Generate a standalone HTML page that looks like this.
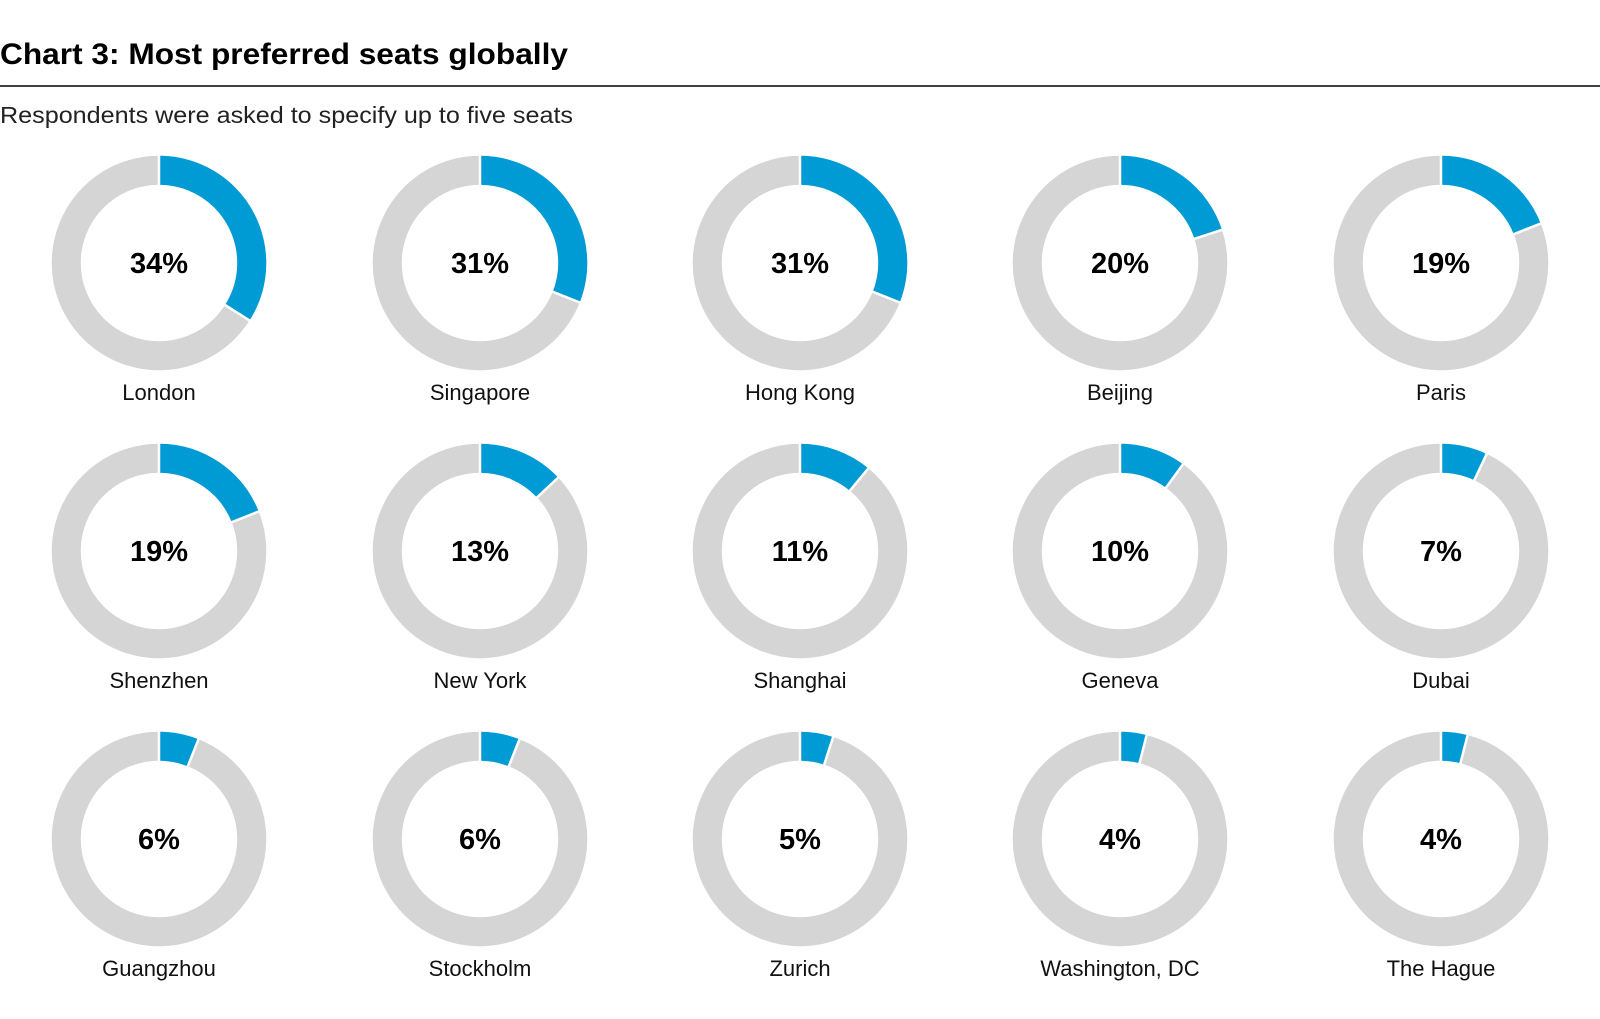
<!DOCTYPE html>
<html><head><meta charset="utf-8"><style>
html,body{margin:0;padding:0;background:#fff;}
svg{display:block;}
text{font-family:"Liberation Sans",sans-serif;}
</style></head><body>
<svg width="1600" height="1019" viewBox="0 0 1600 1019" xmlns="http://www.w3.org/2000/svg">
<text x="0" y="64" font-size="30" font-weight="bold" fill="#000" textLength="568" lengthAdjust="spacingAndGlyphs">Chart 3: Most preferred seats globally</text>
<line x1="0" y1="86" x2="1600" y2="86" stroke="#000" stroke-width="1.5"/>
<text x="0" y="123" font-size="23" fill="#222" textLength="573" lengthAdjust="spacingAndGlyphs">Respondents were asked to specify up to five seats</text>
<g id="g"></g>
</svg>
<script>
var d=[["London",34],["Singapore",31],["Hong Kong",31],["Beijing",20],["Paris",19],["Shenzhen",19],["New York",13],["Shanghai",11],["Geneva",10],["Dubai",7],["Guangzhou",6],["Stockholm",6],["Zurich",5],["Washington, DC",4],["The Hague",4]];
var xs=[159,480,800,1120,1441],ys=[263,551,839];
var r=92.75,C=2*Math.PI*r,s="";
d.forEach(function(e,i){
var cx=xs[i%5],cy=ys[Math.floor(i/5)],p=e[1]/100;
s+='<circle cx="'+cx+'" cy="'+cy+'" r="'+r+'" fill="none" stroke="#d5d5d5" stroke-width="29"/>';
s+='<circle cx="'+cx+'" cy="'+cy+'" r="'+r+'" fill="none" stroke="#009bd4" stroke-width="29" stroke-dasharray="'+(p*C)+' '+C+'" transform="rotate(-90 '+cx+' '+cy+')"/>';
[0,p].forEach(function(f){var a=2*Math.PI*f;var sx=Math.sin(a),sy=-Math.cos(a);
s+='<line x1="'+(cx+77*sx)+'" y1="'+(cy+77*sy)+'" x2="'+(cx+109*sx)+'" y2="'+(cy+109*sy)+'" stroke="#fff" stroke-width="2.5"/>';});
s+='<text x="'+cx+'" y="'+(cy+10)+'" font-size="29" font-weight="bold" text-anchor="middle" fill="#000">'+e[1]+'%</text>';
s+='<text x="'+cx+'" y="'+(cy+137)+'" font-size="22" text-anchor="middle" fill="#111">'+e[0]+'</text>';
});
document.getElementById("g").innerHTML=s;
</script>
</body></html>
